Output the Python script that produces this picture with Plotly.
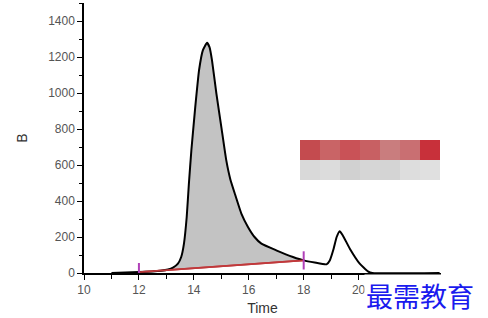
import plotly.graph_objects as go

# ---- data ----
time = [11.0, 11.5, 12.0, 12.5, 12.8, 13.06, 13.24, 13.42, 13.54, 13.64, 13.74, 13.82,
        13.91, 14.05, 14.19, 14.33, 14.48, 14.57, 14.66, 14.82, 15.0, 15.18, 15.33,
        15.49, 15.73, 15.97, 16.21, 16.46, 17.0, 17.61, 18.0, 18.4, 18.83, 18.95,
        19.09, 19.2, 19.31, 19.42, 19.68, 20.04, 20.34, 20.5, 22.95]
signal = [0, 3, 5, 8, 12, 19, 30, 52, 89, 163, 311, 497,
          682, 920, 1127, 1238, 1279, 1255, 1183, 998, 812, 627, 520,
          442, 330, 256, 200, 163, 126, 89, 70, 58, 48, 70,
          135, 200, 232, 210, 135, 52, 9, 0, 0]
base_x = [12, 18]
base_y = [5, 70]
x_ticks = [10, 12, 14, 16, 18, 20]
y_ticks = [0, 200, 400, 600, 800, 1000, 1200, 1400]
legend_red = ["#c44b4f", "#c96466", "#c95257", "#c86063", "#c97d7e", "#c96f72", "#c8303a"]
legend_gray = ["#d9d9d9", "#dcdcdc", "#d1d1d1", "#d6d6d6", "#d4d4d4", "#dddddd", "#e0e0e0"]

W, H = 488, 318
L, R, T, B = 84, 47, 3, 45

fig = go.Figure()

# baseline (for fill reference)
fig.add_trace(go.Scatter(x=base_x, y=base_y, mode="lines",
                         line=dict(color="#c0393b", width=1.6), showlegend=False,
                         hoverinfo="skip"))
# shaded integral area between curve and baseline
fx = [t for t in time if base_x[0] <= t <= base_x[1]]
fy = [s for t, s in zip(time, signal) if base_x[0] <= t <= base_x[1]]
fig.add_trace(go.Scatter(x=fx, y=fy, mode="lines", line=dict(width=0, shape="spline", smoothing=0.4),
                         fill="tonexty", fillcolor="#c3c3c3", showlegend=False, hoverinfo="skip"))
# main curve
fig.add_trace(go.Scatter(x=time, y=signal, mode="lines",
                         line=dict(color="black", width=2, shape="spline", smoothing=0.4),
                         showlegend=False))
# baseline again on top
fig.add_trace(go.Scatter(x=base_x, y=base_y, mode="lines",
                         line=dict(color="#c0393b", width=1.6), showlegend=False,
                         hoverinfo="skip"))
# integration limit markers
fig.add_trace(go.Scatter(x=base_x, y=base_y, mode="markers",
                         marker=dict(symbol="line-ns", size=13,
                                     line=dict(color="#b040b8", width=2)),
                         showlegend=False))

# pixelated legend block
def px_x(p):
    return (p - L) / (W - L - R)

def px_y(p):
    return 1 - (p - T) / (H - T - B)

shapes = []
for i, c in enumerate(legend_red):
    shapes.append(dict(type="rect", xref="paper", yref="paper",
                       x0=px_x(300 + 20 * i), x1=px_x(320 + 20 * i),
                       y0=px_y(160), y1=px_y(140), fillcolor=c, line=dict(width=0)))
for i, c in enumerate(legend_gray):
    shapes.append(dict(type="rect", xref="paper", yref="paper",
                       x0=px_x(300 + 20 * i), x1=px_x(320 + 20 * i),
                       y0=px_y(180), y1=px_y(160), fillcolor=c, line=dict(width=0)))

fig.update_layout(
    width=W, height=H,
    margin=dict(l=L, r=R, t=T, b=B),
    paper_bgcolor="white", plot_bgcolor="white",
    font=dict(family="Liberation Sans, Arial", color="#444"),
    shapes=shapes,
    annotations=[dict(text="最需教育", xref="paper", yref="paper",
                      x=px_x(364), y=px_y(274), xanchor="left", yanchor="top",
                      showarrow=False, bgcolor="white",
                      font=dict(family="Noto Sans CJK SC", size=27, color="#1a1aee"))],
)
fig.update_xaxes(range=[10, 23], tickvals=x_ticks, showline=True, linecolor="black",
                 linewidth=1.5, ticks="outside", ticklen=5, tickcolor="black",
                 minor=dict(dtick=1, tick0=10, ticks="outside", ticklen=4, tickcolor="black"),
                 showgrid=False, zeroline=False, tickfont=dict(size=12, color="#555"),
                 title=dict(text="Time", font=dict(size=14, color="#333"), standoff=7))
fig.update_yaxes(range=[0, 1500], tickvals=y_ticks, showline=True, linecolor="black",
                 linewidth=1.5, ticks="outside", ticklen=5, tickcolor="black",
                 minor=dict(dtick=100, tick0=0, ticks="outside", ticklen=3, tickcolor="black"),
                 showgrid=False, zeroline=False, tickfont=dict(size=12, color="#555"),
                 title=dict(text="B", font=dict(size=14, color="#333"), standoff=17))

fig.write_html("out.html")
